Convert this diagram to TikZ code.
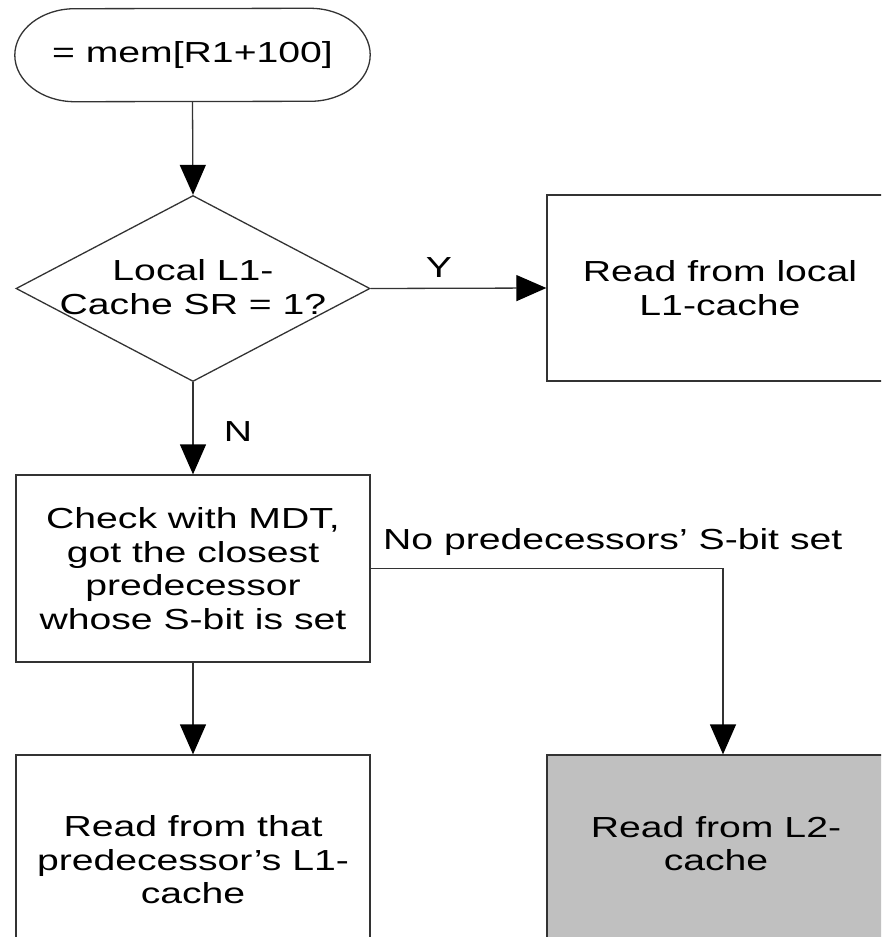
\documentclass[tikz,border=0pt]{standalone}
\usepackage{fontspec}
\newfontfamily\arialx[FakeStretch=1.35]{Liberation Sans}
\usetikzlibrary{arrows.meta,shapes.geometric}
\definecolor{gbox}{HTML}{C0C0C0}
\definecolor{lnc}{HTML}{333333}
\begin{document}
\begin{tikzpicture}[x=1pt,y=-1pt,
  every node/.style={font=\arialx\fontsize{29}{33.5}\selectfont, align=center, inner sep=0pt},
  conn/.style={draw=lnc, line width=1.3pt},
  arr/.style={conn, -{Triangle[length=30pt,width=26pt,color=black]}},
  boxnode/.style={rectangle, draw=lnc, line width=1.3pt, minimum width=354pt},
  ]
\useasboundingbox (0,0) rectangle (881,937);
\clip (0,0) rectangle (881,937);
% terminal
\node[minimum width=355pt, minimum height=93pt] (start) at (192.5,55) {= mem[R1+100]};
\draw[conn] ([xshift=-60pt]start.north east) arc[start angle=-90,end angle=90,x radius=60,y radius=46.5]
  -- ([xshift=60pt]start.south west) arc[start angle=90,end angle=270,x radius=60,y radius=46.5] -- cycle;
% decision
\node[diamond, draw=lnc, line width=1.3pt, minimum width=354pt, minimum height=186pt] (dec) at (193,288.5) {};
\node (dect) at (193,287) {Local L1-\\Cache SR = 1?};
% boxes
\node[boxnode, minimum width=346pt, minimum height=186pt] (loc) at (720,288) {Read from local\\L1-cache};
\node[boxnode, minimum height=187pt] (mdt) at (193,568.5) {Check with MDT,\\got the closest\\predecessor\\whose S-bit is set};
\node[boxnode, minimum height=210pt] (pred) at (193,860) {Read from that\\predecessor’s L1-\\cache};
\node[boxnode, fill=gbox, minimum width=346pt, minimum height=210pt] (l2) at (720,860) {};
\node (l2t) at (716,843.5) {Read from L2-\\cache};
% labels
\node (ylab) at (439,268) {Y};
\node (nlab) at (238,432) {N};
\node[anchor=base west] (nolab) at (383,549) {No predecessors’ S-bit set};
% connectors
\coordinate (bend) at (723,568.5);
\draw[arr] (start.south) -- (dec.north);
\draw[arr] (dec.east) -- (loc.west);
\draw[arr] (dec.south) -- (mdt.north);
\draw[arr] (mdt.south) -- (pred.north);
\draw[arr] (mdt.east) -- (bend) -- (bend |- l2.north);
\end{tikzpicture}
\end{document}
